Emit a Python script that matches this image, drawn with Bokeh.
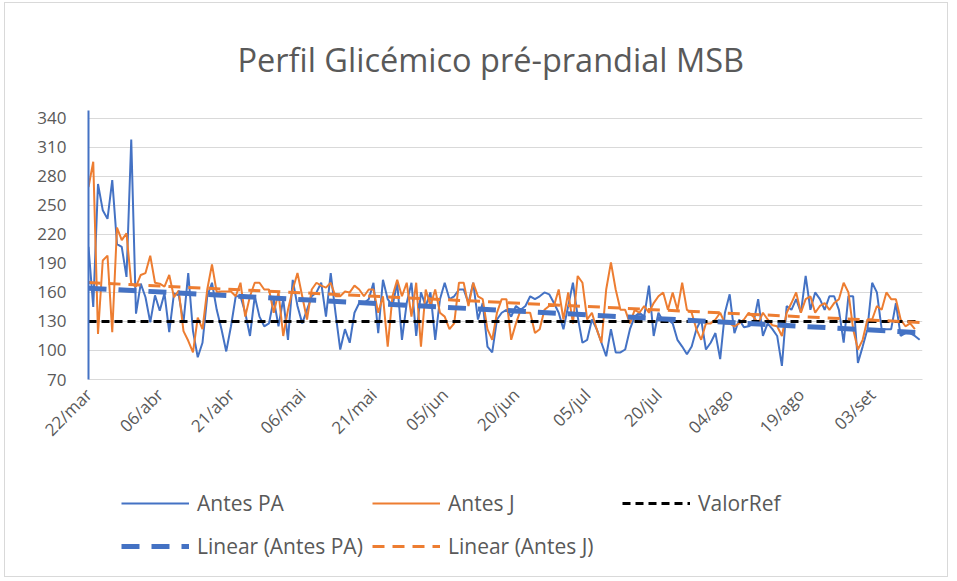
import numpy as np
from bokeh.plotting import figure
from bokeh.layouts import column
from bokeh.models import Legend, LegendItem, FixedTicker
from bokeh.embed import file_html
from bokeh.resources import INLINE

# ---------------- data ----------------
tick_days = [0, 15, 30, 45, 60, 75, 90, 105, 120, 135, 150, 165]
tick_labels = ["22/mar", "06/abr", "21/abr", "06/mai", "21/mai", "05/jun",
               "20/jun", "05/jul", "20/jul", "04/ago", "19/ago", "03/set"]

y_ticks = [70, 100, 130, 160, 190, 220, 250, 280, 310, 340]

antes_pa = [207, 145, 272, 245, 236, 276, 210, 207, 176, 318, 138, 169, 155, 129, 157, 141,
            159, 119, 159, 157, 129, 180, 120, 93, 108, 156, 170, 142, 122, 99, 125, 156,
            156, 139, 115, 156, 135, 125, 128, 153, 125, 153, 111, 173, 146, 128, 142, 156,
            160, 170, 135, 180, 139, 101, 122, 108, 139, 149, 149, 153, 170, 118, 173, 153,
            146, 170, 111, 149, 170, 115, 160, 146, 160, 111, 153, 170, 153, 156, 163, 163,
            149, 170, 132, 149, 104, 98, 132, 139, 142, 135, 146, 142, 146, 156, 153, 156,
            160, 158, 149, 139, 122, 146, 170, 135, 108, 111, 132, 122, 108, 94, 122, 98,
            98, 101, 122, 135, 139, 135, 167, 115, 139, 130, 132, 128, 111, 104, 96, 104,
            122, 132, 101, 108, 118, 91, 139, 158, 118, 132, 124, 125, 128, 153, 115, 128,
            122, 115, 84, 146, 142, 153, 139, 177, 142, 160, 153, 142, 156, 156, 142, 108,
            156, 156, 87, 104, 122, 170, 160, 122, 122, 122, 149, 115, 118, 118, 115, 111]

antes_j = [269, 295, 117, 193, 198, 119, 227, 214, 221, 169, 166, 178, 180, 198, 170, 169,
           166, 178, 155, 162, 120, 110, 98, 134, 122, 163, 189, 160, 161, 161, 161, 156,
           170, 135, 156, 170, 170, 163, 163, 139, 160, 115, 142, 163, 180, 156, 132, 163,
           170, 167, 165, 170, 156, 156, 161, 160, 167, 163, 156, 163, 163, 139, 156, 104,
           156, 173, 156, 170, 135, 170, 104, 163, 146, 163, 139, 135, 122, 128, 170, 170,
           146, 170, 156, 153, 122, 111, 139, 153, 153, 111, 128, 142, 139, 139, 118, 122,
           142, 146, 146, 163, 132, 160, 128, 177, 170, 132, 139, 122, 108, 163, 191, 163,
           142, 142, 128, 142, 139, 146, 139, 149, 156, 160, 142, 160, 142, 170, 142, 139,
           122, 111, 128, 128, 132, 139, 128, 128, 125, 128, 132, 139, 135, 128, 139, 132,
           126, 125, 115, 139, 149, 160, 139, 153, 156, 139, 146, 149, 142, 149, 153, 170,
           160, 122, 101, 111, 132, 132, 146, 142, 160, 153, 153, 132, 125, 128, 122]

valor_ref = 130

# ---------------- derived ----------------
days_pa = np.arange(len(antes_pa))
days_j = np.arange(len(antes_j))
m_pa, b_pa = np.polyfit(days_pa, antes_pa, 1)
m_j, b_j = np.polyfit(days_j, antes_j, 1)
x_end = max(len(antes_pa), len(antes_j)) - 1
ref_x = [0, x_end]
ref_y = [valor_ref, valor_ref]
tpa_y = [b_pa, b_pa + m_pa * x_end]
tj_y = [b_j, b_j + m_j * x_end]

BLUE = "#4472C4"
ORANGE = "#ED7D31"
GREY_TXT = "#595959"
FONT = "Open Sans"

STYLE_PA = dict(line_color=BLUE, line_width=2)
STYLE_J = dict(line_color=ORANGE, line_width=2)
STYLE_REF = dict(line_color="black", line_width=3, line_dash="8 5")
STYLE_TPA = dict(line_color=BLUE, line_width=5, line_dash="18 12")
STYLE_TJ = dict(line_color=ORANGE, line_width=3, line_dash="12 8")


def draw_series(fig):
    r1 = fig.line(days_pa, antes_pa, **STYLE_PA)
    r2 = fig.line(days_j, antes_j, **STYLE_J)
    r3 = fig.line(ref_x, ref_y, **STYLE_REF)
    r4 = fig.line(ref_x, tpa_y, **STYLE_TPA)
    r5 = fig.line(ref_x, tj_y, **STYLE_TJ)
    return r1, r2, r3, r4, r5


# ---------------- main chart ----------------
p = figure(width=942, height=457, output_backend="svg", toolbar_location=None,
           x_range=(0, 175.6), y_range=(70, 348),
           min_border_left=83, min_border_right=25, min_border_top=107,
           min_border_bottom=81)
p.outline_line_color = None
p.background_fill_color = "white"
p.border_fill_color = "white"

p.title.text = "Perfil Glicémico pré-prandial MSB"
p.title.align = "left"
p.title.text_font = FONT
p.title.text_font_size = "32.5px"
p.title.text_font_style = "normal"
p.title.text_color = GREY_TXT
p.title.standoff = 57
p.title.offset = 149

draw_series(p)

p.xaxis.ticker = FixedTicker(ticks=tick_days)
p.xaxis.major_label_overrides = {d: l for d, l in zip(tick_days, tick_labels)}
p.xaxis.major_label_orientation = np.pi / 4
p.xaxis.axis_line_color = "#d9d9d9"
p.xaxis.major_tick_line_color = None
p.xaxis.minor_tick_line_color = None
p.xaxis.major_label_text_font = FONT
p.xaxis.major_label_text_font_size = "17px"
p.xaxis.major_label_text_color = GREY_TXT
p.xaxis.major_label_standoff = 6

p.yaxis.ticker = FixedTicker(ticks=y_ticks)
p.yaxis.axis_line_color = BLUE
p.yaxis.axis_line_width = 2
p.yaxis.major_tick_line_color = None
p.yaxis.minor_tick_line_color = None
p.yaxis.major_label_text_font = FONT
p.yaxis.major_label_text_font_size = "17px"
p.yaxis.major_label_text_color = GREY_TXT
p.yaxis.major_label_standoff = 16

p.xgrid.grid_line_color = None
p.ygrid.grid_line_color = "#d9d9d9"
p.ygrid.grid_line_width = 1

# ---------------- legend strip (series drawn out of view, only legend shows) ----------------
lg = figure(width=942, height=116, output_backend="svg", toolbar_location=None,
            x_axis_location=None, y_axis_location=None,
            min_border=0, x_range=(0, 1), y_range=(0, 1))
lg.outline_line_color = None
lg.xgrid.grid_line_color = None
lg.ygrid.grid_line_color = None

lr_pa, lr_j, lr_ref, lr_tpa, lr_tj = draw_series(lg)


def add_leg(label, renderer, x, y):
    leg = Legend(items=[LegendItem(label=label, renderers=[renderer])],
                 location=(x, y), orientation="horizontal",
                 glyph_width=68, glyph_height=20, label_standoff=8,
                 label_height=20, padding=0, margin=0, spacing=0,
                 label_text_font=FONT, label_text_font_size="21px",
                 label_text_color=GREY_TXT, border_line_color=None,
                 background_fill_alpha=0)
    lg.add_layout(leg, "center")


add_leg("Antes PA", lr_pa, 33, 59)
add_leg("Antes J", lr_j, 284, 59)
add_leg("ValorRef", lr_ref, 534, 59)
add_leg("Linear (Antes PA)", lr_tpa, 33, 16)
add_leg("Linear (Antes J)", lr_tj, 284, 16)

layout = column(p, lg, spacing=0)
layout.styles = {"border": "1px solid #d9d9d9", "margin-left": "4px", "margin-top": "2px"}

open("out.html", "w").write(file_html(layout, INLINE))
